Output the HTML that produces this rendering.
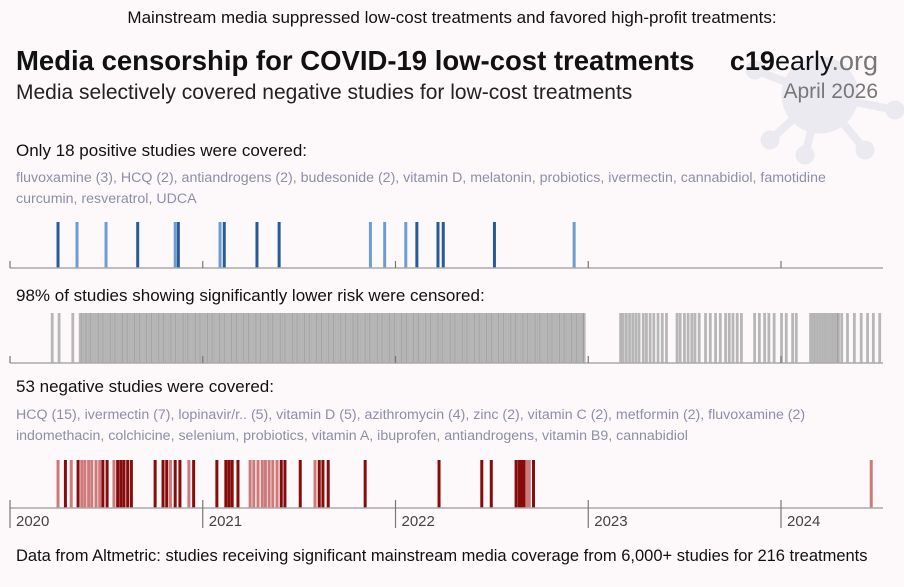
<!DOCTYPE html>
<html><head><meta charset="utf-8"><style>
body{margin:0;background:#fdf9fb;font-family:"Liberation Sans",sans-serif;}
#w{position:relative;width:904px;height:587px;overflow:hidden;background:#fdf9fb}
.t{position:absolute;white-space:nowrap}
.g{color:#8c8fa6;font-size:14.2px}
</style></head><body><div id="w">
<svg style="position:absolute;left:715px;top:35px" width="190" height="130"><g fill="#ebeaf0" stroke="#ebeaf0"><circle cx="105" cy="60" r="38"/><line x1="105" y1="60" x2="40" y2="35" stroke-width="8"/><line x1="105" y1="60" x2="55" y2="105" stroke-width="8"/><line x1="105" y1="60" x2="90" y2="120" stroke-width="8"/><line x1="105" y1="60" x2="150" y2="115" stroke-width="8"/><line x1="105" y1="60" x2="180" y2="75" stroke-width="8"/><circle cx="40" cy="35" r="9"/><circle cx="55" cy="105" r="9"/><circle cx="90" cy="120" r="9"/><circle cx="150" cy="115" r="9"/><circle cx="180" cy="75" r="9"/></g></svg>
<div class="t" style="left:0;width:904px;text-align:center;top:8px;font-size:17px;color:#111">Mainstream media suppressed low-cost treatments and favored high-profit treatments:</div>
<div class="t" style="left:16px;top:45px;font-size:27.5px;font-weight:bold;color:#111">Media censorship for COVID-19 low-cost treatments</div>
<div class="t" style="left:16px;top:81px;font-size:21px;color:#222">Media selectively covered negative studies for low-cost treatments</div>
<div class="t" style="right:26px;top:46px;font-size:27px;color:#111"><b>c19</b>early<span style="color:#777">.org</span></div>
<div class="t" style="right:26px;top:80px;font-size:21px;color:#777">April 2026</div>
<div class="t" style="left:16px;top:141px;font-size:17px;color:#111">Only 18 positive studies were covered:</div>
<div class="t g" style="left:16px;top:168px;line-height:21px">fluvoxamine (3), HCQ (2), antiandrogens (2), budesonide (2), vitamin D, melatonin, probiotics, ivermectin, cannabidiol, famotidine<br>curcumin, resveratrol, UDCA</div>
<div class="t" style="left:16px;top:286px;font-size:17px;color:#111">98% of studies showing significantly lower risk were censored:</div>
<div class="t" style="left:16px;top:377px;font-size:17px;color:#111">53 negative studies were covered:</div>
<div class="t g" style="left:16px;top:405px;line-height:21px">HCQ (15), ivermectin (7), lopinavir/r.. (5), vitamin D (5), azithromycin (4), zinc (2), vitamin C (2), metformin (2), fluvoxamine (2)<br>indomethacin, colchicine, selenium, probiotics, vitamin A, ibuprofen, antiandrogens, vitamin B9, cannabidiol</div>
<div class="t" style="left:16px;top:547px;font-size:16.5px;color:#111">Data from Altmetric: studies receiving significant mainstream media coverage from 6,000+ studies for 216 treatments</div>
<svg id="c" width="904" height="587" style="position:absolute;left:0;top:0"></svg>
</div>
<script>
// days since 2020-01-01
const years=[2020,2021,2022,2023,2024];
const posDays=[91,127,182,242,313,319,398,406,468,510,683,710,750,771,811,821,918,1069];
const posType=[1,0,0,1,0,1,0,1,1,1,0,0,0,1,1,1,1,0];
const negDays=[91,105,116,129,136,142,149,155,163,170,176,184,197,204,210,216,223,230,275,290,297,304,313,322,339,348,392,409,415,421,432,455,462,470,478,484,491,498,506,514,521,550,578,586,593,603,673,813,894,912,959,965,969,974,980,984,992,1632];
const negType=[0,1,0,1,0,0,0,0,0,0,1,1,0,1,1,1,1,1,1,1,1,0,1,1,0,1,1,1,1,1,1,0,0,0,0,0,0,0,0,1,1,1,0,1,1,1,1,1,1,1,1,1,1,1,0,0,1,0];
const grayDays=[80,93,119,133,137,142,146,151,155,160,165,169,174,178,183,188,192,197,201,206,211,215,220,224,229,234,238,243,247,252,257,261,266,270,275,280,284,289,293,298,303,307,312,316,321,326,330,335,339,344,349,353,358,362,367,372,376,381,385,390,395,399,404,408,413,418,422,427,431,436,441,445,450,454,459,464,468,473,477,482,487,491,496,500,505,510,514,519,523,528,533,537,542,546,551,556,560,565,569,574,579,583,588,592,597,602,606,611,615,620,625,629,634,638,643,648,652,657,661,666,671,675,680,684,689,694,698,703,707,712,717,721,726,730,735,740,744,749,753,758,763,767,772,776,781,786,790,795,799,804,809,813,818,822,827,832,836,841,845,850,855,859,864,868,873,878,882,887,891,896,901,905,910,914,919,924,928,933,937,942,947,951,956,960,965,970,974,979,983,988,993,997,1002,1006,1011,1016,1020,1025,1029,1034,1039,1043,1048,1052,1057,1062,1066,1071,1075,1080,1085,1088,1157,1162,1168,1174,1180,1186,1192,1200,1206,1213,1220,1228,1236,1244,1264,1270,1278,1285,1292,1298,1306,1318,1327,1337,1346,1356,1363,1370,1378,1386,1411,1420,1430,1438,1448,1462,1471,1483,1490,1517,1522,1527,1532,1537,1542,1547,1552,1557,1562,1567,1570,1576,1587,1600,1613,1625,1636,1648];
const svg=document.getElementById('c');const NS='http://www.w3.org/2000/svg';
const X=d=>10+d*192.75/365.25;
const XY=y=>10+(y-2020)*192.75;
function mk(tag,at){const e=document.createElementNS(NS,tag);for(const k in at)e.setAttribute(k,at[k]);svg.appendChild(e);return e;}
function axis(y,tickTop,tickBot,name,labels){
 const l=mk('line',{x1:10,x2:883,y1:y,y2:y,stroke:'#aaa','stroke-width':1.5});
 
 
 years.forEach(yr=>{const t=mk('line',{x1:XY(yr),x2:XY(yr),y1:tickTop,y2:tickBot,stroke:'#777','stroke-width':1.2});
  
  
  if(labels){const tx=mk('text',{x:XY(yr)+6,y:526,'font-size':15,fill:'#444','font-family':'Liberation Sans, sans-serif'});tx.textContent=yr;
   
   }
 });
}
grayDays.forEach(d=>{const r=mk('rect',{x:X(d)-1.4,y:313,width:2.8,height:50,fill:'#8a8a8a','fill-opacity':0.6});
 
 });
posDays.forEach((d,i)=>{const r=mk('rect',{x:X(d)-1.5,y:222,width:3,height:46,fill:posType[i]?'#285a96':'#6e9bd0'});
 
 });
negDays.forEach((d,i)=>{const r=mk('rect',{x:X(d)-1.5,y:460,width:3,height:48,fill:negType[i]?'#860c0c':'#cf7a7a'});
 
 });
axis(268,261,268,'positive',false);
axis(363,356,363,'censored',false);
axis(508,500,528,'negative',true);
</script></body></html>
